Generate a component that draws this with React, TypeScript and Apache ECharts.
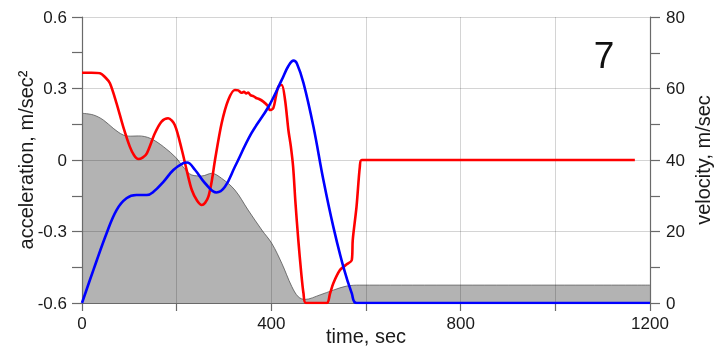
import React, { useEffect, useRef } from "react";
import * as echarts from "echarts";

// time axis ticks
const xTicks = [0, 200, 400, 600, 800, 1000, 1200];
const xLabelTicks = [0, 400, 800, 1200];

// acceleration (red), m/sec^2
const accTime = [0, 20, 38, 50, 59, 73, 87, 101, 110, 119, 128, 137, 154, 168, 182, 196, 211, 222, 232, 243, 253, 260, 267, 274, 281, 295, 309, 323, 330, 337, 342, 347, 351, 356, 362, 368, 374, 383, 392, 397, 404, 410, 415, 422, 429, 436, 441, 446, 451, 457, 463, 468, 473, 517, 524, 531, 545, 558, 570, 572, 580, 587, 591, 1168];
const accValue = [0.366, 0.366, 0.364, 0.345, 0.322, 0.238, 0.14, 0.056, 0.02, 0.004, 0.01, 0.028, 0.112, 0.161, 0.175, 0.147, 0.042, -0.05, -0.126, -0.17, -0.189, -0.18, -0.154, -0.09, 0.0, 0.154, 0.252, 0.294, 0.292, 0.282, 0.286, 0.279, 0.283, 0.272, 0.268, 0.26, 0.256, 0.245, 0.228, 0.21, 0.217, 0.27, 0.308, 0.315, 0.252, 0.126, 0.06, -0.028, -0.18, -0.336, -0.47, -0.56, -0.6, -0.6, -0.56, -0.517, -0.462, -0.44, -0.42, -0.336, -0.196, -0.028, 0, 0];

// velocity (blue), m/sec
const velTime = [0, 24, 52, 73, 94, 115, 137, 151, 172, 193, 214, 222, 239, 260, 284, 302, 323, 358, 394, 422, 436, 447, 454, 468, 489, 510, 531, 552, 570, 580, 1200];
const velValue = [0, 9.2, 19.5, 26, 29.3, 30.2, 30.2, 31.1, 33.9, 37.2, 39.1, 39.3, 37.2, 33.5, 30.9, 32.5, 38.1, 47.5, 54.9, 62.4, 66.3, 67.8, 67, 61.5, 49.3, 34.4, 21.3, 10.2, 2.7, 0, 0];

// gray profile (left axis scale)
const profTime = [0, 24, 45, 66, 87, 103, 119, 144, 172, 200, 212, 232, 253, 274, 295, 323, 351, 380, 401, 422, 443, 457, 471, 503, 531, 559, 587, 1200];
const profValue = [0.196, 0.189, 0.168, 0.133, 0.105, 0.1, 0.101, 0.091, 0.056, 0.007, -0.025, -0.063, -0.067, -0.056, -0.077, -0.126, -0.21, -0.294, -0.35, -0.433, -0.53, -0.574, -0.585, -0.566, -0.546, -0.529, -0.525, -0.525];

const panelLabel = "7";

const FONT = "'Liberation Sans', Arial, sans-serif";
const AXIS_COLOR = "#6a6a6a";
const TEXT_COLOR = "#1a1a1a";
const GRID_COLOR = "rgba(0,0,0,0.17)";

function pairs(t: number[], v: number[]) {
  return t.map((x, i) => [x, v[i]]);
}

export default function App() {
  const ref = useRef<HTMLDivElement>(null);
  useEffect(() => {
    document.body.style.margin = "0";
    const chart = echarts.init(ref.current!, undefined, { renderer: "svg" });
    const fmtAcc = (v: number) => (Math.abs(v) < 1e-9 ? "0" : v.toFixed(1));
    chart.setOption({
      animation: false,
      textStyle: { fontFamily: FONT },
      grid: { left: 82, right: 65, top: 17, bottom: 44, containLabel: false, outerBoundsMode: "none" },
      graphic: [
        {
          type: "text",
          x: 604,
          y: 55,
          style: {
            text: panelLabel,
            fontSize: 37,
            fontFamily: FONT,
            fill: "#111",
            textAlign: "center",
            textVerticalAlign: "middle",
          },
          z: 10,
        },
      ],
      xAxis: {
        type: "value",
        min: xTicks[0],
        max: xTicks[xTicks.length - 1],
        interval: 200,
        name: "time, sec",
        nameLocation: "middle",
        nameGap: 23,
        nameMoveOverlap: false,
        nameTextStyle: { fontSize: 20, color: TEXT_COLOR, fontFamily: FONT },
        axisLine: { show: true, onZero: false, lineStyle: { color: AXIS_COLOR, width: 1.2 } },
        axisTick: { show: true, inside: false, length: 8, lineStyle: { color: AXIS_COLOR, width: 1.2 } },
        axisLabel: {
          fontSize: 17,
          color: TEXT_COLOR,
          margin: 12,
          fontFamily: FONT,
          formatter: (v: number) => (xLabelTicks.includes(v) ? String(v) : ""),
        },
        splitLine: { show: true, lineStyle: { color: GRID_COLOR, width: 1 } },
      },
      yAxis: [
        {
          type: "value",
          position: "left",
          min: -0.6,
          max: 0.6,
          interval: 0.3,
          name: "acceleration, m/sec²",
          nameLocation: "middle",
          nameGap: 46,
          nameMoveOverlap: false,
          nameTextStyle: { fontSize: 20, color: TEXT_COLOR, fontFamily: FONT },
          axisLine: { show: true, onZero: false, lineStyle: { color: AXIS_COLOR, width: 1.2 } },
          axisTick: { show: true, inside: false, length: 10, lineStyle: { color: AXIS_COLOR, width: 1.2 } },
          minorTick: { show: true, splitNumber: 2, length: 10, lineStyle: { color: AXIS_COLOR, width: 1.2 } },
          axisLabel: { fontSize: 17, color: TEXT_COLOR, margin: 15, fontFamily: FONT, formatter: fmtAcc },
          splitLine: { show: true, lineStyle: { color: GRID_COLOR, width: 1 } },
        },
        {
          type: "value",
          position: "right",
          min: 0,
          max: 80,
          interval: 20,
          name: "velocity, m/sec",
          nameLocation: "middle",
          nameGap: 43,
          nameMoveOverlap: false,
          nameTextStyle: { fontSize: 20, color: TEXT_COLOR, fontFamily: FONT },
          axisLine: { show: true, onZero: false, lineStyle: { color: AXIS_COLOR, width: 1.2 } },
          axisTick: { show: true, inside: false, length: 10, lineStyle: { color: AXIS_COLOR, width: 1.2 } },
          minorTick: { show: true, splitNumber: 2, length: 10, lineStyle: { color: AXIS_COLOR, width: 1.2 } },
          axisLabel: { fontSize: 17, color: TEXT_COLOR, margin: 16, fontFamily: FONT },
          splitLine: { show: false },
        },
      ],
      series: [
        {
          name: "profile",
          type: "line",
          yAxisIndex: 0,
          data: pairs(profTime, profValue),
          symbol: "none",
          smooth: 0.35,
          z: -1,
          lineStyle: { color: "#555555", width: 0.8 },
          areaStyle: { color: "#b3b3b3", opacity: 1, origin: "start" },
        },
        {
          name: "acceleration",
          type: "line",
          yAxisIndex: 0,
          data: pairs(accTime, accValue),
          symbol: "none",
          smooth: 0.3,
          lineStyle: { color: "#ff0000", width: 2.6 },
        },
        {
          name: "velocity",
          type: "line",
          yAxisIndex: 1,
          data: pairs(velTime, velValue),
          symbol: "none",
          smooth: 0.4,
          lineStyle: { color: "#0000ff", width: 2.6 },
        },
      ],
    });
    return () => chart.dispose();
  }, []);
  return (
    <div
      ref={ref}
      style={{ position: "fixed", left: 0, top: 0, width: 715, height: 347 }}
    />
  );
}
